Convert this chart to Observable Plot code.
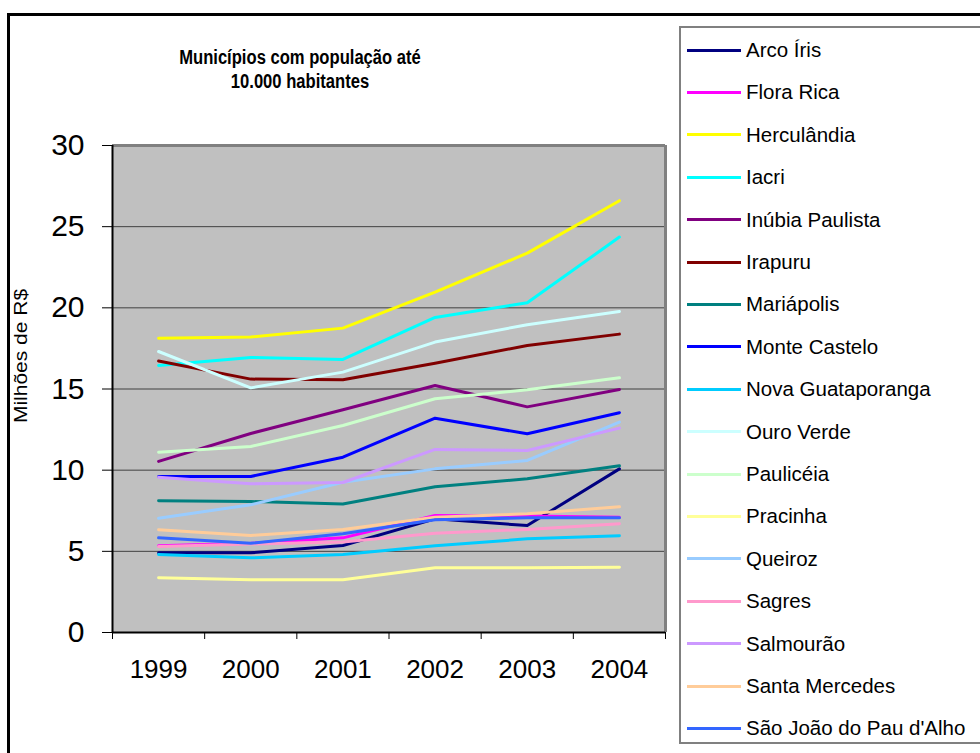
<!DOCTYPE html>
<html><head><meta charset="utf-8">
<script src="https://cdn.jsdelivr.net/npm/d3@7"></script>
<script src="https://cdn.jsdelivr.net/npm/@observablehq/plot@0.6"></script>
<style>
body{margin:0;background:#fff;font-family:"Liberation Sans",Arial,sans-serif;color:#000;}
#wrap{position:relative;width:980px;height:753px;overflow:hidden;background:#fff;}
#frame{position:absolute;left:7px;top:13px;width:1000px;height:800px;border:3px solid #000;box-sizing:border-box;}
#title{position:absolute;left:100px;width:400px;top:45px;text-align:center;font-weight:bold;font-size:20px;line-height:24px;transform:scaleX(0.83);transform-origin:200px 0;}
#chart{position:absolute;left:0;top:0;}
#ytitle{position:absolute;left:21px;top:356px;width:0;height:0;}
#ytitle span{position:absolute;left:0;top:0;transform:translate(-50%,-50%) rotate(-90deg) scaleY(0.83);font-size:21px;white-space:nowrap;}
#legend{position:absolute;left:679px;top:26px;width:320px;height:718px;border:2px solid #808080;box-sizing:border-box;background:#fff;}
.item{position:absolute;left:6px;height:24px;display:flex;align-items:center;white-space:nowrap;font-size:20.5px;}
.sw{width:54px;height:3px;margin-right:5px;}
</style>
</head><body>
<div id="wrap">
  <div id="frame"></div>
  <div id="title">Municípios com população até<br>10.000 habitantes</div>
  <div id="chart"></div>
  <div id="ytitle"><span>Milhões de R$</span></div>
  <div id="legend"></div>
</div>
<script>
const years = [1999, 2000, 2001, 2002, 2003, 2004];
const names = ["Arco Íris","Flora Rica","Herculândia","Iacri","Inúbia Paulista","Irapuru","Mariápolis","Monte Castelo","Nova Guataporanga","Ouro Verde","Paulicéia","Pracinha","Queiroz","Sagres","Salmourão","Santa Mercedes","São João do Pau d'Alho"];
const colors = ["#000080","#ff00ff","#ffff00","#00ffff","#800080","#800000","#008080","#0000ff","#00ccff","#ccffff","#ccffcc","#ffff99","#99ccff","#ff99cc","#cc99ff","#ffcc99","#3366ff"];
const values = [
  [4.91, 4.91, 5.36, 7.00, 6.59, 10.08],   // Arco Íris
  [5.34, 5.50, 5.83, 7.21, 7.17, 7.10],    // Flora Rica
  [18.13, 18.20, 18.75, 20.97, 23.37, 26.60], // Herculândia
  [16.45, 16.94, 16.82, 19.41, 20.31, 24.36], // Iacri
  [10.54, 12.26, 13.72, 15.22, 13.90, 14.97], // Inúbia Paulista
  [16.72, 15.61, 15.57, 16.59, 17.68, 18.38], // Irapuru
  [8.11, 8.07, 7.91, 8.98, 9.47, 10.27],   // Mariápolis
  [9.61, 9.61, 10.80, 13.20, 12.24, 13.54], // Monte Castelo
  [4.81, 4.60, 4.81, 5.34, 5.77, 5.96],    // Nova Guataporanga
  [17.31, 15.07, 16.04, 17.89, 18.96, 19.78], // Ouro Verde
  [11.11, 11.46, 12.75, 14.40, 14.95, 15.69], // Paulicéia
  [3.37, 3.25, 3.25, 3.99, 3.99, 4.02],    // Pracinha
  [7.04, 7.87, 9.26, 10.08, 10.60, 12.96], // Queiroz
  [5.30, 5.45, 5.57, 6.12, 6.35, 6.70],    // Sagres
  [9.57, 9.16, 9.24, 11.28, 11.21, 12.59], // Salmourão
  [6.33, 5.98, 6.35, 7.10, 7.31, 7.74],    // Santa Mercedes
  [5.83, 5.50, 6.08, 6.94, 7.07, 7.07]     // São João do Pau d'Alho
];
const yTicks = [0, 5, 10, 15, 20, 25, 30];
const gridTicks = [5, 10, 15, 20, 25];
const xDomain = [1998.5, 2004.5];
const xBounds = [1998.5, 1999.5, 2000.5, 2001.5, 2002.5, 2003.5, 2004.5];
const yDomain = [0, 30];

const data = names.flatMap((n, i) => years.map((yr, j) => ({name: n, year: yr, value: values[i][j]})));

const plot = Plot.plot({
  width: 680, height: 700,
  marginLeft: 112, marginRight: 15, marginTop: 145, marginBottom: 68,
  x: {type: "linear", domain: xDomain},
  y: {domain: yDomain},
  color: {domain: names, range: colors},
  style: {fontFamily: "'Liberation Sans', Arial, sans-serif", background: "transparent", color: "#000"},
  marks: [
    Plot.frame({fill: "#c0c0c0", stroke: null}),
    Plot.gridY(gridTicks, {stroke: "#404040", strokeOpacity: 1, strokeWidth: 1}),
    Plot.lineY(data, {x: "year", y: "value", z: "name", stroke: "name", strokeWidth: 3, curve: "linear"}),
    Plot.ruleY([yDomain[1]], {stroke: "#808080", strokeWidth: 3}),
    Plot.ruleX([xDomain[1]], {stroke: "#808080", strokeWidth: 3}),
    Plot.ruleX([xDomain[0]], {stroke: "#000", strokeWidth: 2}),
    Plot.ruleY([yDomain[0]], {stroke: "#000", strokeWidth: 2}),
    Plot.axisY(yTicks, {tickSize: 10, tickPadding: 18, fontSize: 30, tickFormat: d => String(d), label: null, stroke: "#000"}),
    Plot.axisX(years, {tickSize: 0, tickPadding: 27, fontSize: 26, tickFormat: d => String(d), label: null}),
    Plot.axisX(xBounds, {tickSize: 7, tickFormat: () => "", label: null, stroke: "#000"})
  ]
});
document.getElementById("chart").appendChild(plot);

const legend = document.getElementById("legend");
names.forEach((n, i) => {
  const it = document.createElement("div");
  it.className = "item";
  it.style.top = (10 + i * 42.4) + "px";
  const sw = document.createElement("div");
  sw.className = "sw";
  sw.style.background = colors[i];
  const tx = document.createElement("span");
  tx.textContent = n;
  it.appendChild(sw); it.appendChild(tx);
  legend.appendChild(it);
});
</script>
</body></html>
